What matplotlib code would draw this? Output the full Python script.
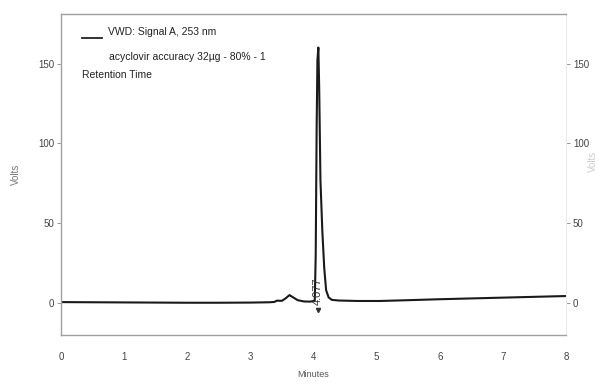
import numpy as np
import matplotlib
matplotlib.use("Agg")
import matplotlib.pyplot as plt

plt.rcParams['font.family'] = ['Liberation Sans Narrow', 'Liberation Sans', 'DejaVu Sans']

# chromatogram trace (minutes, volts)
time_min = [0, 0.5, 1, 1.5, 2, 2.5, 3, 3.3, 3.38, 3.42, 3.5, 3.56, 3.62, 3.68, 3.75, 3.85, 3.95,
            4.02, 4.035, 4.05, 4.062, 4.077, 4.09, 4.11, 4.14, 4.17, 4.2, 4.24, 4.29, 4.4, 4.7,
            5.05, 5.5, 6, 6.5, 7, 7.5, 8]
signal_v = [0.6, 0.5, 0.4, 0.3, 0.2, 0.2, 0.3, 0.5, 0.7, 1.5, 1.4, 3.0, 5.0, 3.5, 1.8, 1.0, 0.9,
            1.5, 30, 110, 152, 160, 135, 77, 45, 22, 8, 3.5, 2.0, 1.6, 1.3,
            1.3, 1.8, 2.4, 2.9, 3.4, 3.9, 4.4]

x_ticks = [0, 1, 2, 3, 4, 5, 6, 7, 8]
y_ticks = [0, 50, 100, 150]
peak_rt = 4.077

legend_lines = ["VWD: Signal A, 253 nm", "acyclovir accuracy 32µg - 80% - 1"]
legend_title = "Retention Time"

fig = plt.figure(figsize=(5.99, 3.84), dpi=100)
ax = fig.add_axes([61/599, 1-335/384, 505/599, 321/384])

ax.plot(time_min, signal_v, color='#1a1a1a', lw=1.5)

ax.set_xlim(0, 8)
ax.set_ylim(-20, 181)
ax.set_xticks(x_ticks)
ax.set_yticks(y_ticks)

for s in ['left', 'bottom', 'top']:
    ax.spines[s].set_color('#a0a0a0')
    ax.spines[s].set_linewidth(1.0)
ax.spines['right'].set_color('#ececec')

ax.tick_params(axis='x', length=0, pad=12, labelsize=7, labelcolor='#444444')
ax.tick_params(axis='y', length=3, width=0.6, color='#888888', labelsize=7,
               labelcolor='#444444', pad=2, right=True, labelright=True)

ax.set_xlabel("Minutes", fontsize=6.5, color='#555555', labelpad=6)
ax.set_ylabel("Volts", fontsize=7, color='#777777', labelpad=12)
fig.text(0.982, 0.58, "Volts", rotation=90, fontsize=7, color='#cccccc', ha='left', va='center')

# legend-like header
ax.plot([0.33, 0.65], [166, 166], color='#222222', lw=1.3)
ax.text(0.74, 170, legend_lines[0], fontsize=7.5, color='#222222', va='center')
ax.text(0.76, 154, legend_lines[1], fontsize=7.5, color='#222222', va='center')
ax.text(0.33, 142.7, legend_title, fontsize=7.5, color='#222222', va='center')

# retention time label and marker
ax.text(peak_rt - 0.005, -1, f"{peak_rt:.3f}", rotation=90, fontsize=8, color='#333333',
        ha='center', va='bottom')
ax.plot([peak_rt], [-4.5], marker='v', markersize=3, color='#333333')

fig.savefig("out.png", dpi=100)
